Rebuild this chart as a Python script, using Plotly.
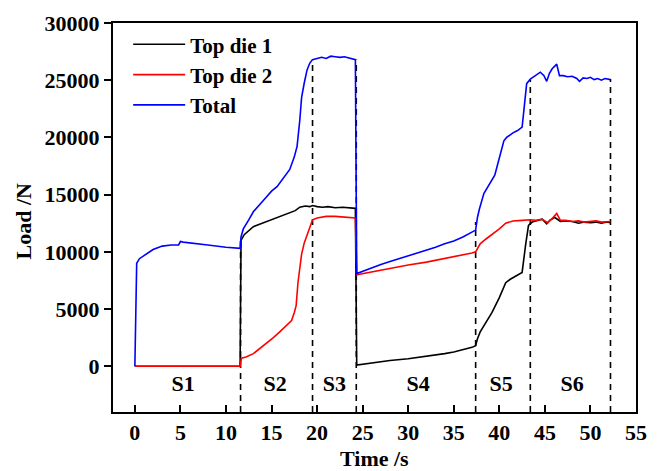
import plotly.graph_objects as go

# ---- data ----
t_total = [0, 0.2, 0.5, 1.0, 1.5, 2.0, 3.0, 4.0, 4.8, 5.0, 5.3, 6.0, 8.0, 10.0, 11.0, 11.55,
           11.65, 11.9, 12.5, 13.0, 14.0, 15.0, 15.6, 16.3, 17.0, 17.5, 17.8, 18.1, 18.3, 18.6,
           18.9, 19.2, 19.5, 20.0, 20.5, 21.0, 21.5, 22.0, 22.5, 23.0, 23.5, 24.0, 24.2, 24.35,
           25, 26, 27, 28, 29, 30, 31, 32, 33, 34, 35, 36, 37, 37.4, 37.6, 37.8, 38.3, 39.0,
           39.5, 40.0, 40.5, 40.8, 41.5, 42.0, 42.5, 42.7, 43.0, 43.4, 44.0, 44.5, 44.9, 45.2,
           45.5, 45.8, 46.3, 46.6, 47.0, 47.5, 48.0, 48.5, 48.8, 49.2, 49.6, 50.0, 50.4, 50.8,
           51.2, 51.6, 52.2]
total = [0, 9000, 9400, 9650, 9950, 10200, 10500, 10600, 10600, 10900, 10850, 10800, 10600,
         10400, 10300, 10300, 11300, 12000, 12800, 13500, 14400, 15300, 15700, 16500, 17200,
         18300, 19200, 21500, 23500, 24800, 25900, 26500, 26800, 26900, 27000, 26900, 27100,
         27050, 27000, 27050, 26950, 26900, 26800, 8100, 8300, 8600, 8900, 9150, 9400, 9600,
         9850, 10100, 10400, 10700, 10950, 11300, 11700, 11900, 13000, 13700, 15100, 16000,
         16700, 18200, 19700, 20000, 20400, 20600, 20900, 22400, 24700, 25100, 25400, 25700,
         25400, 24900, 25600, 26000, 26400, 25400, 25400, 25300, 25350, 25150, 24900, 25200,
         25150, 25250, 25050, 25150, 25000, 25150, 25050]

t_die1 = [0, 11.55, 11.65, 12.0, 13.0, 14.0, 15.2, 16.0, 17.0, 17.6, 18.1, 18.7, 19.2, 19.5,
          20.0, 20.6, 21.2, 22.0, 22.8, 23.5, 24.2, 24.35, 26, 28, 30, 32, 34, 35, 36, 37,
          37.4, 37.6, 37.9, 38.5, 39.2, 40.0, 40.7, 41.2, 41.6, 42.5, 42.9, 43.2, 43.6, 44.2,
          44.7, 45.2, 45.6, 46.1, 46.7, 47.3, 48, 48.7, 49.3, 50, 50.6, 51.2, 51.8, 52.2]
die1 = [0, 0, 11000, 11500, 12200, 12500, 12850, 13050, 13350, 13600, 13900, 14000, 13950,
        14050, 13950, 13900, 13950, 13850, 13900, 13850, 13800, 100, 300, 500, 650, 850, 1100,
        1250, 1450, 1650, 1800, 2400, 3000, 3800, 4700, 6000, 7300, 7600, 7800, 8200, 10700,
        12300, 12600, 12750, 12850, 12450, 12800, 13000, 12650, 12700, 12650, 12500, 12600,
        12550, 12600, 12500, 12600, 12550]

t_die2 = [0, 11.55, 11.7, 12.2, 13.0, 13.8, 14.4, 15.2, 15.9, 16.6, 17.2, 17.5, 17.7, 17.9,
          18.1, 18.3, 18.6, 18.9, 19.2, 19.5, 20.0, 21.0, 22.0, 23.0, 24.2, 24.35, 26, 28, 30,
          32, 34, 35, 36, 37, 37.4, 37.6, 37.9, 38.5, 39.2, 40.0, 40.7, 41.5, 42.5, 43.4, 44.0,
          44.7, 45.0, 45.3, 45.8, 46.3, 46.7, 47.3, 48, 48.7, 49.3, 50, 50.6, 51.2, 51.8, 52.2]
die2 = [0, 0, 700, 800, 1100, 1600, 2000, 2500, 3000, 3500, 4000, 4700, 5300, 7300, 8800,
        9800, 10800, 11500, 12300, 12800, 12950, 13100, 13100, 13050, 12950, 8000, 8250, 8600,
        8850, 9100, 9400, 9550, 9700, 9900, 10000, 10300, 10700, 11100, 11500, 12000, 12500,
        12700, 12750, 12800, 12750, 12850, 12700, 12550, 12900, 13350, 12750, 12750, 12650,
        12700, 12600, 12650, 12700, 12600, 12650, 12650]

stage_bounds = [11.6, 19.5, 24.3, 37.4, 43.4, 52.2]
bound_tops = [11300, 26800, 26800, 12600, 25050, 25100]
stage_labels = ["S1", "S2", "S3", "S4", "S5", "S6"]
stage_label_x = [5.3, 15.4, 21.9, 31.1, 40.2, 48.0]
stage_label_y = -1700

x_ticks = [0, 5, 10, 15, 20, 25, 30, 35, 40, 45, 50, 55]
x_tick_labels = ["0", "5", "10", "15", "20", "25", "30", "35", "40", "45", "50", "55"]
y_ticks = [0, 5000, 10000, 15000, 20000, 25000, 30000]
y_tick_labels = ["0", "5000", "10000", "15000", "20000", "25000", "30000"]
x_range = [-2.4, 55]
y_range = [-4000, 30000]

FONT = "Liberation Serif"
FS = 22

fig = go.Figure()

# dashed stage boundaries
for xb, yt in zip(stage_bounds, bound_tops):
    fig.add_trace(go.Scatter(x=[xb, xb], y=[y_range[0], yt], mode="lines",
                             line=dict(color="black", width=1.6, dash="6px,5px"),
                             showlegend=False, hoverinfo="skip"))

fig.add_trace(go.Scatter(x=t_die1, y=die1, mode="lines", name="Top die 1",
                         line=dict(color="black", width=1.6)))
fig.add_trace(go.Scatter(x=t_die2, y=die2, mode="lines", name="Top die 2",
                         line=dict(color="red", width=1.6)))
fig.add_trace(go.Scatter(x=t_total, y=total, mode="lines", name="Total",
                         line=dict(color="blue", width=1.6)))

fig.add_trace(go.Scatter(x=stage_label_x, y=[stage_label_y] * len(stage_labels),
                         mode="text", text=stage_labels, showlegend=False,
                         textfont=dict(family=FONT, size=FS, color="black", weight="bold"),
                         hoverinfo="skip"))

fig.update_layout(
    width=662, height=471,
    margin=dict(l=113, r=26, t=23, b=59, autoexpand=False),
    paper_bgcolor="white", plot_bgcolor="white",
    font=dict(family=FONT, size=FS, color="black"),
    showlegend=True,
    legend=dict(x=0.029, y=0.997, xanchor="left", yanchor="top",
                bgcolor="rgba(0,0,0,0)",
                font=dict(family=FONT, size=21, color="black", weight="bold"),
                itemwidth=52, tracegroupgap=0),
    annotations=[
        dict(text="Time /s", xref="paper", yref="paper", x=0.5, y=0, yshift=-46,
             xanchor="center", yanchor="middle", showarrow=False,
             font=dict(family=FONT, size=FS, color="black", weight="bold")),
        dict(text="Load /N", xref="paper", yref="paper", x=0, y=0.5, xshift=-90, yshift=-4,
             xanchor="center", yanchor="middle", textangle=-90, showarrow=False,
             font=dict(family=FONT, size=FS, color="black", weight="bold")),
    ],
)
fig.update_xaxes(range=x_range, tickvals=x_ticks, ticktext=x_tick_labels, ticks="inside",
                 ticklen=7, tickwidth=1.5, automargin=False,
                 tickcolor="black", showline=True, linewidth=2, linecolor="black", mirror=True,
                 showgrid=False, zeroline=False,
                 tickfont=dict(family=FONT, size=FS, weight="bold"))
fig.update_yaxes(range=y_range, tickvals=y_ticks, ticktext=y_tick_labels, ticks="outside",
                 ticklen=7, tickwidth=1.5, automargin=False,
                 tickcolor="black", showline=True, linewidth=2, linecolor="black", mirror=True,
                 showgrid=False, zeroline=False,
                 tickfont=dict(family=FONT, size=FS, weight="bold"))

fig.write_html("out.html", config={"displayModeBar": False},
               post_script="document.body.style.margin='0px';document.body.style.overflow='hidden';")
